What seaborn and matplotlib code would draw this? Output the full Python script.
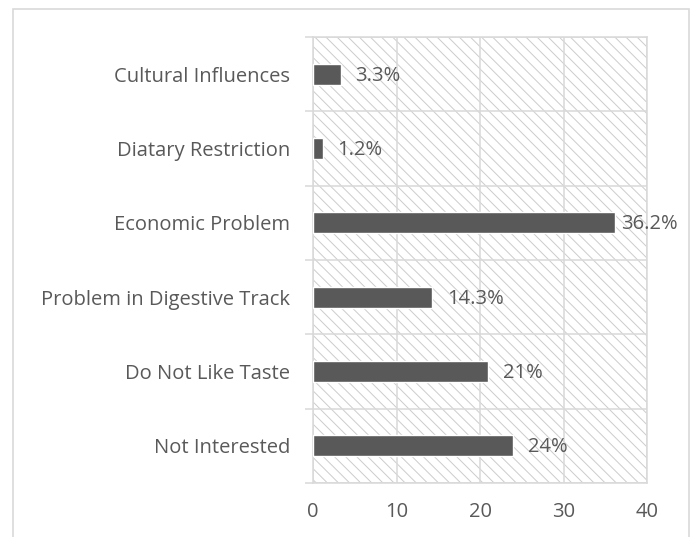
import matplotlib
matplotlib.use("Agg")
import matplotlib.pyplot as plt
from matplotlib.patches import Rectangle
from matplotlib.ticker import FixedLocator
import seaborn as sns
import pandas as pd

# Reasons for not consuming, share of respondents (%)
reasons = [
    "Cultural Influences",
    "Diatary Restriction",
    "Economic Problem",
    "Problem in Digestive Track",
    "Do Not Like Taste",
    "Not Interested",
]
percent = [3.3, 1.2, 36.2, 14.3, 21, 24]
value_labels = ["3.3%", "1.2%", "36.2%", "14.3%", "21%", "24%"]
x_ticks = [0, 10, 20, 30, 40]

TEXT = "#595959"
GRID = "#d9d9d9"
BAR = "#595959"
FS = 14.5

sns.set_theme(style="white")
plt.rcParams["font.family"] = ["Open Sans", "DejaVu Sans"]
plt.rcParams["hatch.linewidth"] = 0.7
plt.rcParams["hatch.color"] = "#cccccc"

df = pd.DataFrame({"reason": reasons, "percent": percent})

fig = plt.figure(figsize=(6.92, 5.37), dpi=100)
ax = fig.add_axes([313 / 692, 1 - 483 / 537, (647 - 313) / 692, (483 - 37) / 537])

# hatched plot-area background
ax.add_patch(Rectangle((0, 0), 1, 1, transform=ax.transAxes, facecolor="white",
                       edgecolor="#cccccc", hatch="\\\\\\", linewidth=0, zorder=0))

sns.barplot(data=df, x="percent", y="reason", order=reasons, color=BAR,
            width=0.285, saturation=1, ax=ax, zorder=3)

ax.set_xlim(0, 40)
ax.set_ylim(len(reasons) - 0.5, -0.5)
ax.set_xticks(x_ticks)
ax.set_xticklabels([str(t) for t in x_ticks])
ax.set_xlabel("")
ax.set_ylabel("")

# category separators as minor ticks + grid
ax.yaxis.set_minor_locator(FixedLocator([i - 0.5 for i in range(len(reasons) + 1)]))
ax.grid(True, axis="x", which="major", color=GRID, linewidth=1.1, zorder=1)
ax.grid(True, axis="y", which="minor", color=GRID, linewidth=1.1, zorder=1)
ax.grid(False, axis="y", which="major")
ax.set_axisbelow(True)

ax.tick_params(axis="y", which="major", length=0, pad=16.5, labelsize=FS, labelcolor=TEXT)
ax.tick_params(axis="y", which="minor", length=6, width=1.1, color=GRID, left=True)
ax.tick_params(axis="x", which="major", length=0, pad=14, labelsize=FS, labelcolor=TEXT)

for s in ax.spines.values():
    s.set_color(GRID)
    s.set_linewidth(1.1)

# value labels at the bar ends; a label that would run past the frame sits closer
px_per_unit = (647 - 313) / 40
for i, (v, lab) in enumerate(zip(percent, value_labels)):
    offset = 10.5
    if v * px_per_unit + offset * 100 / 72 + len(lab) * 12 > 44.2 * px_per_unit:
        offset = 4
    ax.annotate(lab, xy=(v, i), xytext=(offset, -1), textcoords="offset points",
                ha="left", va="center", fontsize=FS, color=TEXT, zorder=4)

# outer chart frame
fig.patches.append(Rectangle((13 / 692, -0.05), (689 - 13) / 692, 1.05 - 9 / 537,
                             transform=fig.transFigure, fill=False,
                             edgecolor=GRID, linewidth=1.2))

fig.savefig("out.png", dpi=100)
